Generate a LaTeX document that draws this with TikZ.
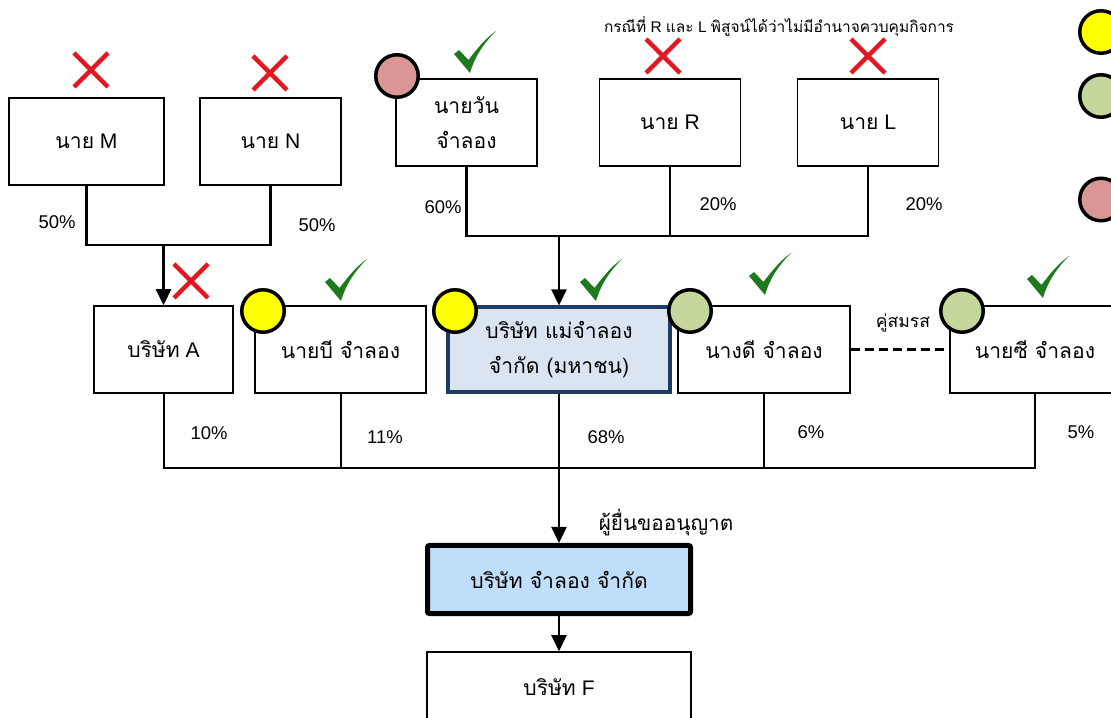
\documentclass[tikz,border=0pt]{standalone}
\usepackage{fontspec}
\setmainfont{Liberation Sans}
\newfontfamily\thaifont[Script=Thai]{Loma}
\usetikzlibrary{arrows.meta}

\begin{document}
\begin{tikzpicture}[
  box/.style={draw=black,line width=0.03cm,fill=white,minimum height=1.74cm,inner sep=0pt,align=center,font=\fontsize{12}{20}\selectfont},
  dot/.style={circle,draw=black,line width=0.07cm,minimum size=0.85cm,inner sep=0pt},
  pct/.style={inner sep=0pt,font=\fontsize{10.5}{12}\selectfont},
  link/.style={line width=0.04cm},
  flow/.style={line width=0.045cm,-{Triangle[length=0.32cm,width=0.30cm]}},
  xmark/.pic={\draw[cx,line width=0.09cm] (-0.34,0.34) -- (0.34,-0.34) (-0.34,-0.34) -- (0.34,0.34);},
  chkmark/.pic={\fill[cchk] (-0.42,-0.04) -- (-0.32,0.04) -- (-0.13,-0.16) .. controls (0.05,0.08) and (0.22,0.28) .. (0.42,0.42) .. controls (0.18,0.18) and (0.00,-0.08) .. (-0.10,-0.42) -- cycle;}
]
\definecolor{cx}{rgb}{0.89,0.09,0.13}
\definecolor{cchk}{rgb}{0.12,0.48,0.12}
\definecolor{cyel}{rgb}{1.0,1.0,0.0}
\definecolor{cgrn}{rgb}{0.77,0.84,0.61}
\definecolor{cred}{rgb}{0.85,0.59,0.58}
\definecolor{cpar}{rgb}{0.86,0.90,0.95}
\definecolor{cpard}{rgb}{0.12,0.24,0.39}
\definecolor{csim}{rgb}{0.75,0.87,0.98}
\useasboundingbox (0,0) rectangle (22.22,14.34);
%
\node[box,minimum width=3.10cm] (nayM) at (1.73,11.51) {{\thaifont นาย} M};
\node[box,minimum width=2.82cm] (nayN) at (5.41,11.51) {{\thaifont นาย} N};
\node[box,minimum width=2.82cm,font=\thaifont\fontsize{12}{20}\selectfont] (nayWan) at (9.33,11.89) {นายวัน\\จำลอง};
\node[box,minimum width=2.82cm] (nayR) at (13.40,11.89) {{\thaifont นาย} R};
\node[box,minimum width=2.82cm] (nayL) at (17.36,11.89) {{\thaifont นาย} L};
%
\node[box,minimum width=2.78cm] (coA) at (3.27,7.35) {{\thaifont บริษัท} A};
\node[box,minimum width=3.42cm,font=\thaifont\fontsize{12}{20}\selectfont] (nayB) at (6.81,7.35) {นายบี จำลอง};
\node[box,minimum width=4.44cm,minimum height=1.70cm,draw=cpard,fill=cpar,line width=0.08cm,font=\thaifont\fontsize{12}{20}\selectfont] (parent) at (11.18,7.34) {บริษัท แม่จำลอง\\จำกัด (มหาชน)};
\node[box,minimum width=3.44cm,font=\thaifont\fontsize{12}{20}\selectfont] (nangD) at (15.28,7.35) {นางดี จำลอง};
\node[box,minimum width=3.40cm,font=\thaifont\fontsize{12}{20}\selectfont] (nayC) at (20.70,7.35) {นายซี จำลอง};
%
\node[box,minimum width=5.26cm,minimum height=1.36cm,fill=csim,line width=0.1cm,rounded corners=0.04cm,font=\thaifont\fontsize{12}{20}\selectfont] (sim) at (11.18,2.75) {บริษัท จำลอง จำกัด};
\node[box,minimum width=5.28cm,minimum height=1.40cm] (coF) at (11.18,0.60) {{\thaifont บริษัท} F};
%
\coordinate (jMN) at (3.27,9.44);
\coordinate (jWRL) at (11.18,9.62);
\coordinate (jLow) at (11.18,4.98);
%
\draw[link,line width=0.05cm] (nayM.south) |- (jMN) -| (nayN.south);
\draw[flow] (jMN) -- (coA.north);
\draw[link,line width=0.05cm] (nayWan.south) |- (jWRL) -| (nayL.south);
\draw[link] (nayR.south) -- (nayR.south |- jWRL);
\draw[flow] (jWRL) -- (parent.north);
\draw[link] (coA.south) |- (jLow) -| (nayC.south);
\draw[link] (nayB.south) -- (nayB.south |- jLow);
\draw[link] (parent.south) -- (jLow);
\draw[link] (nangD.south) -- (nangD.south |- jLow);
\draw[flow] (jLow) -- (sim.north);
\draw[flow] (sim.south) -- (coF.north);
\draw[link,line width=0.045cm,dash pattern=on 0.18cm off 0.10cm] (nangD.east) -- (nayC.west);
%
\node[pct] (pM) at (1.14,9.90) {50\%};
\node[pct] (pN) at (6.34,9.84) {50\%};
\node[pct] (pWan) at (8.86,10.20) {60\%};
\node[pct] (pR) at (14.36,10.26) {20\%};
\node[pct] (pL) at (18.48,10.26) {20\%};
\node[pct] (pA) at (4.18,5.68) {10\%};
\node[pct] (pB) at (7.70,5.60) {11\%};
\node[pct] (pPar) at (12.12,5.60) {68\%};
\node[pct] (pD) at (16.22,5.70) {6\%};
\node[pct] (pC) at (21.62,5.70) {5\%};
\node[inner sep=0pt,font=\thaifont\fontsize{10}{12}\selectfont] (spouse) at (18.06,7.88) {คู่สมรส};
\node[inner sep=0pt,font=\thaifont\fontsize{11.8}{12}\selectfont] (applicant) at (13.32,3.88) {ผู้ยื่นขออนุญาต};
\node[inner sep=0pt,font=\fontsize{8.8}{10}\selectfont] (note) at (15.58,13.80) {{\thaifont กรณีที่} R {\thaifont และ} L {\thaifont พิสูจน์ได้ว่าไม่มีอำนาจควบคุมกิจการ}};
%
\node[dot,fill=cred] (dWan) at (7.94,12.82) {};
\node[dot,fill=cyel] (dB) at (5.26,8.12) {};
\node[dot,fill=cyel] (dPar) at (9.10,8.12) {};
\node[dot,fill=cgrn] (dD) at (13.80,8.12) {};
\node[dot,fill=cgrn] (dC) at (19.24,8.12) {};
\node[dot,fill=cyel] (legY) at (22.02,13.70) {};
\node[dot,fill=cgrn] (legG) at (22.02,12.42) {};
\node[dot,fill=cred] (legR) at (22.02,10.35) {};
%
\pic at (1.82,12.94) {xmark};
\pic at (5.40,12.88) {xmark};
\pic at (13.26,13.22) {xmark};
\pic at (17.36,13.22) {xmark};
\pic at (3.82,8.72) {xmark};
\pic at (9.50,13.30) {chkmark};
\pic at (6.92,8.74) {chkmark};
\pic at (12.02,8.74) {chkmark};
\pic at (15.40,8.86) {chkmark};
\pic at (20.96,8.80) {chkmark};
%
\end{tikzpicture}
\end{document}
